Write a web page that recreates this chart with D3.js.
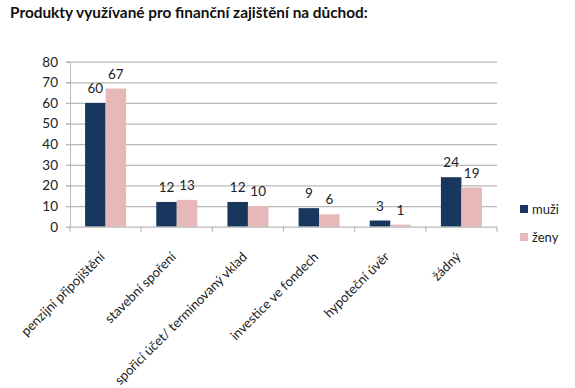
<!DOCTYPE html>
<html><head><meta charset="utf-8">
<script src="https://cdn.jsdelivr.net/npm/d3@7"></script>
<style>body{margin:0;background:#fff}</style>
</head><body><svg id="c" width="575" height="388"></svg>
<script>
const categories = ["penzijní připojištění","stavební spoření","spořicí účet/ terminovaný vklad","investice ve fondech","hypoteční úvěr","žádný"];
const seriesNames = ["muži","ženy"];
const muzi = [60,12,12,9,3,24];
const zeny = [67,13,10,6,1,19];
const yTicks = [0,10,20,30,40,50,60,70,80];
const colors = ["#17375e","#e6b9b8"];

const svg = d3.select("#c");
const font = "Lato, 'Open Sans', sans-serif";
const L = 70, R = 497, T = 61.7, B = 226.7;

const title = svg.append("text").attr("x",10).attr("y",17.5).attr("font-family",font).attr("font-weight","bold")
  .attr("font-size",14.5).attr("fill","#111").text("Produkty využívané pro finanční zajištění na důchod:");
const tw = title.node().getComputedTextLength();
title.attr("font-size", 14.5*358/tw);

const x = d3.scaleBand().domain(categories).range([L,R]).paddingInner(0).paddingOuter(0);
const xs = d3.scaleBand().domain(seriesNames).range([0,x.bandwidth()]).paddingInner(0).paddingOuter(0.736);
const y = d3.scaleLinear().domain([0,80]).range([B,T]);

// gridlines
svg.append("g").selectAll("line").data(yTicks.filter(d=>d>0)).join("line")
  .attr("x1",L-4).attr("x2",R).attr("y1",d=>y(d)+0.5).attr("y2",d=>y(d)+0.5)
  .attr("stroke","#b8b8b8").attr("stroke-width",1.2);

// y axis
const ya = svg.append("g").attr("transform",`translate(${L},0)`)
  .call(d3.axisLeft(y).tickValues(yTicks).tickSize(4).tickPadding(8));
ya.select(".domain").attr("stroke","#b8b8b8");
ya.selectAll(".tick line").attr("stroke","#b8b8b8");
ya.selectAll("text").attr("font-family",font).attr("font-size",13.5).attr("fill","#222");

// bars
const data = categories.map((c,i)=>({c, vals:[muzi[i],zeny[i]]}));
const g = svg.append("g");
data.forEach(d=>{
  d.vals.forEach((v,j)=>{
    const bx = x(d.c)+xs(seriesNames[j]);
    g.append("rect").attr("x",bx).attr("y",y(v)).attr("width",xs.bandwidth()).attr("height",B-y(v))
      .attr("fill",colors[j]);
    g.append("text").attr("x",bx+xs.bandwidth()/2).attr("y",y(v)-10).attr("text-anchor","middle")
      .attr("font-family",font).attr("font-size",13.5).attr("fill","#222").text(v);
  });
});

// x axis
svg.append("line").attr("x1",L).attr("x2",R).attr("y1",B+0.5).attr("y2",B+0.5).attr("stroke","#b8b8b8").attr("stroke-width",1.2);
const bounds = categories.map(c=>x(c)).concat([R]);
svg.append("g").selectAll("line").data(bounds).join("line")
  .attr("x1",d=>d).attr("x2",d=>d).attr("y1",B).attr("y2",B+5).attr("stroke","#b8b8b8").attr("stroke-width",1.2);

const xl = svg.append("g").selectAll("text").data(categories).join("text")
  .attr("transform",d=>`translate(${x(d)+x.bandwidth()/2},${B+31}) rotate(-45)`)
  .attr("text-anchor","end").attr("font-family",font).attr("font-size",13).attr("fill","#222").text(d=>d);
const lw = xl.nodes()[0].getComputedTextLength();
xl.attr("font-size", 13*112/lw);

// legend
const lg = svg.append("g");
seriesNames.forEach((s,i)=>{
  lg.append("rect").attr("x",520).attr("y",205+i*28).attr("width",8).attr("height",8).attr("fill",colors[i]);
  lg.append("text").attr("x",532).attr("y",213.5+i*28).attr("font-family",font).attr("font-size",13).attr("fill","#222").text(s);
});
</script></body></html>
